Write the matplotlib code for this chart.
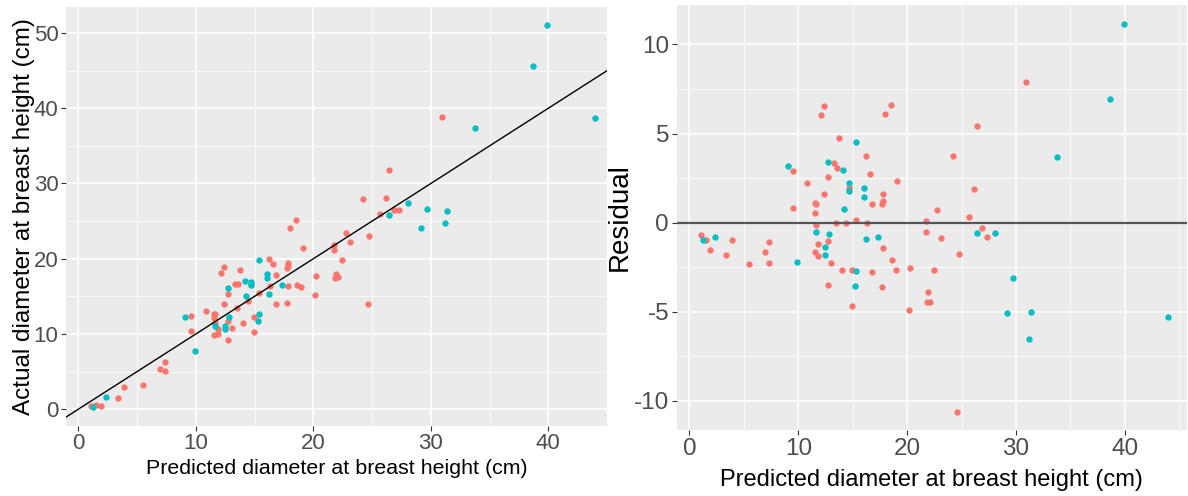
import matplotlib
matplotlib.use("Agg")
import matplotlib.pyplot as plt
import numpy as np
from matplotlib.ticker import MultipleLocator

plt.rcParams['axes.unicode_minus'] = False
plt.rcParams['font.family'] = ['Liberation Sans', 'DejaVu Sans']

# predicted dbh and residual (actual - predicted)
red_pred = [1.07, 1.53, 1.93, 3.37, 3.92, 5.51, 6.95, 7.35, 7.35, 9.55,
            9.55, 10.84, 11.54, 11.66, 11.57, 11.66, 11.85, 11.57, 11.85, 12.12,
            12.40, 12.40, 12.77, 12.77, 12.77, 13.04, 13.32, 13.59, 13.77, 13.50,
            14.42, 14.05, 14.70, 14.94, 14.94, 15.34, 16.25, 16.59, 16.35, 16.78,
            16.80, 17.81, 17.81, 17.72, 17.81, 17.72, 18.00, 18.55, 18.64, 18.95,
            19.10, 20.24, 20.15, 21.72, 21.72, 21.90, 21.84, 22.08, 22.45, 22.79,
            23.09, 24.20, 24.62, 24.75, 25.64, 26.19, 26.40, 26.86, 27.32, 30.96]
red_resid = [-0.69, -0.97, -1.54, -1.82, -0.97, -2.33, -1.65, -1.09, -2.25, 2.88,
             0.82, 2.21, 1.10, 1.03, 0.52, -0.15, -1.20, -1.65, -1.88, 6.03,
             6.53, 1.59, 2.54, -1.03, -3.51, -2.27, 3.35, 3.05, 4.73, -0.03,
             -0.03, -2.66, 1.93, -2.66, -4.69, 0.13, 3.72, 2.73, -0.03, 1.03,
             -2.78, 1.59, 1.21, 1.03, -1.43, -3.62, 6.08, 6.59, -2.10, -2.68,
             2.34, -2.56, -4.91, 0.09, -0.54, -3.90, -4.46, -4.46, -2.66, 0.69,
             -0.88, 3.73, -10.64, -1.78, 0.32, 1.87, 5.41, -0.32, -0.81, 7.88]

teal_pred = [1.22, 2.39, 9.09, 9.92, 11.63, 12.74, 12.86, 12.49, 12.49, 14.14,
             14.23, 14.70, 14.70, 15.34, 15.34, 15.25, 16.07, 16.07, 16.23, 17.36,
             26.40, 28.06, 29.71, 29.13, 31.39, 31.24, 33.75, 38.68, 39.91, 43.95]
teal_resid = [-0.97, -0.81, 3.20, -2.21, -0.53, 3.39, -0.66, -1.37, -1.82, 2.94,
              0.75, 2.21, 1.78, 4.51, -2.72, -3.56, 1.93, 1.42, -0.92, -0.81,
              -0.60, -0.60, -3.11, -5.07, -5.02, -6.54, 3.67, 6.93, 11.16, -5.30]

red_pred, red_resid = np.array(red_pred), np.array(red_resid)
teal_pred, teal_resid = np.array(teal_pred), np.array(teal_resid)
red_actual = red_pred + red_resid
teal_actual = teal_pred + teal_resid

RED, TEAL = '#F8766D', '#00BFC4'
xlabel = 'Predicted diameter at breast height (cm)'


def gg_theme(ax, major_x, major_y, tick_size):
    ax.set_facecolor('#EBEBEB')
    for s in ax.spines.values():
        s.set_visible(False)
    ax.xaxis.set_major_locator(MultipleLocator(major_x))
    ax.xaxis.set_minor_locator(MultipleLocator(major_x / 2))
    ax.yaxis.set_major_locator(MultipleLocator(major_y))
    ax.yaxis.set_minor_locator(MultipleLocator(major_y / 2))
    ax.grid(which='major', color='white', lw=1.1)
    ax.grid(which='minor', color='white', lw=0.55)
    ax.set_axisbelow(True)
    ax.tick_params(which='major', length=3.5, width=0.8, color='#333333',
                   labelcolor='#4D4D4D', pad=2, labelsize=tick_size)
    ax.tick_params(which='minor', length=0)


fig = plt.figure(figsize=(11.88, 4.96), dpi=100)

# left: predicted vs actual
ax1 = fig.add_axes([0.0556, 0.1417, 0.4554, 0.8448])
gg_theme(ax1, 10, 10, 16)
ax1.scatter(red_pred, red_actual, s=21, color=RED, lw=0, zorder=3)
ax1.scatter(teal_pred, teal_actual, s=21, color=TEAL, lw=0, zorder=3)
ax1.set_xlim(-1.05, 45.0)
ax1.set_ylim(-2.2, 53.5)
ax1.axline((0, 0), slope=1, color='black', lw=1, zorder=4)
ax1.set_xlabel(xlabel, fontsize=15.4, color='black')
ax1.set_ylabel('Actual diameter at breast height (cm)', fontsize=17.5, color='black')
ax1.xaxis.set_label_coords(0.5, -0.079)
ax1.yaxis.set_label_coords(-0.057, 0.5)

# right: residuals
ax2 = fig.add_axes([0.5696, 0.1331, 0.4295, 0.8569])
gg_theme(ax2, 10, 5, 17.5)
ax2.scatter(red_pred, red_resid, s=21, color=RED, lw=0, zorder=3)
ax2.scatter(teal_pred, teal_resid, s=21, color=TEAL, lw=0, zorder=3)
ax2.axhline(0, color='#555555', lw=1.6, zorder=4)
ax2.set_xlim(-1.16, 45.7)
ax2.set_ylim(-11.65, 12.22)
ax2.set_xlabel(xlabel, fontsize=17, color='black')
ax2.set_ylabel('Residual', fontsize=20, color='black')
ax2.xaxis.set_label_coords(0.5, -0.091)
ax2.yaxis.set_label_coords(-0.0856, 0.5)

fig.savefig('out.png', dpi=100)
